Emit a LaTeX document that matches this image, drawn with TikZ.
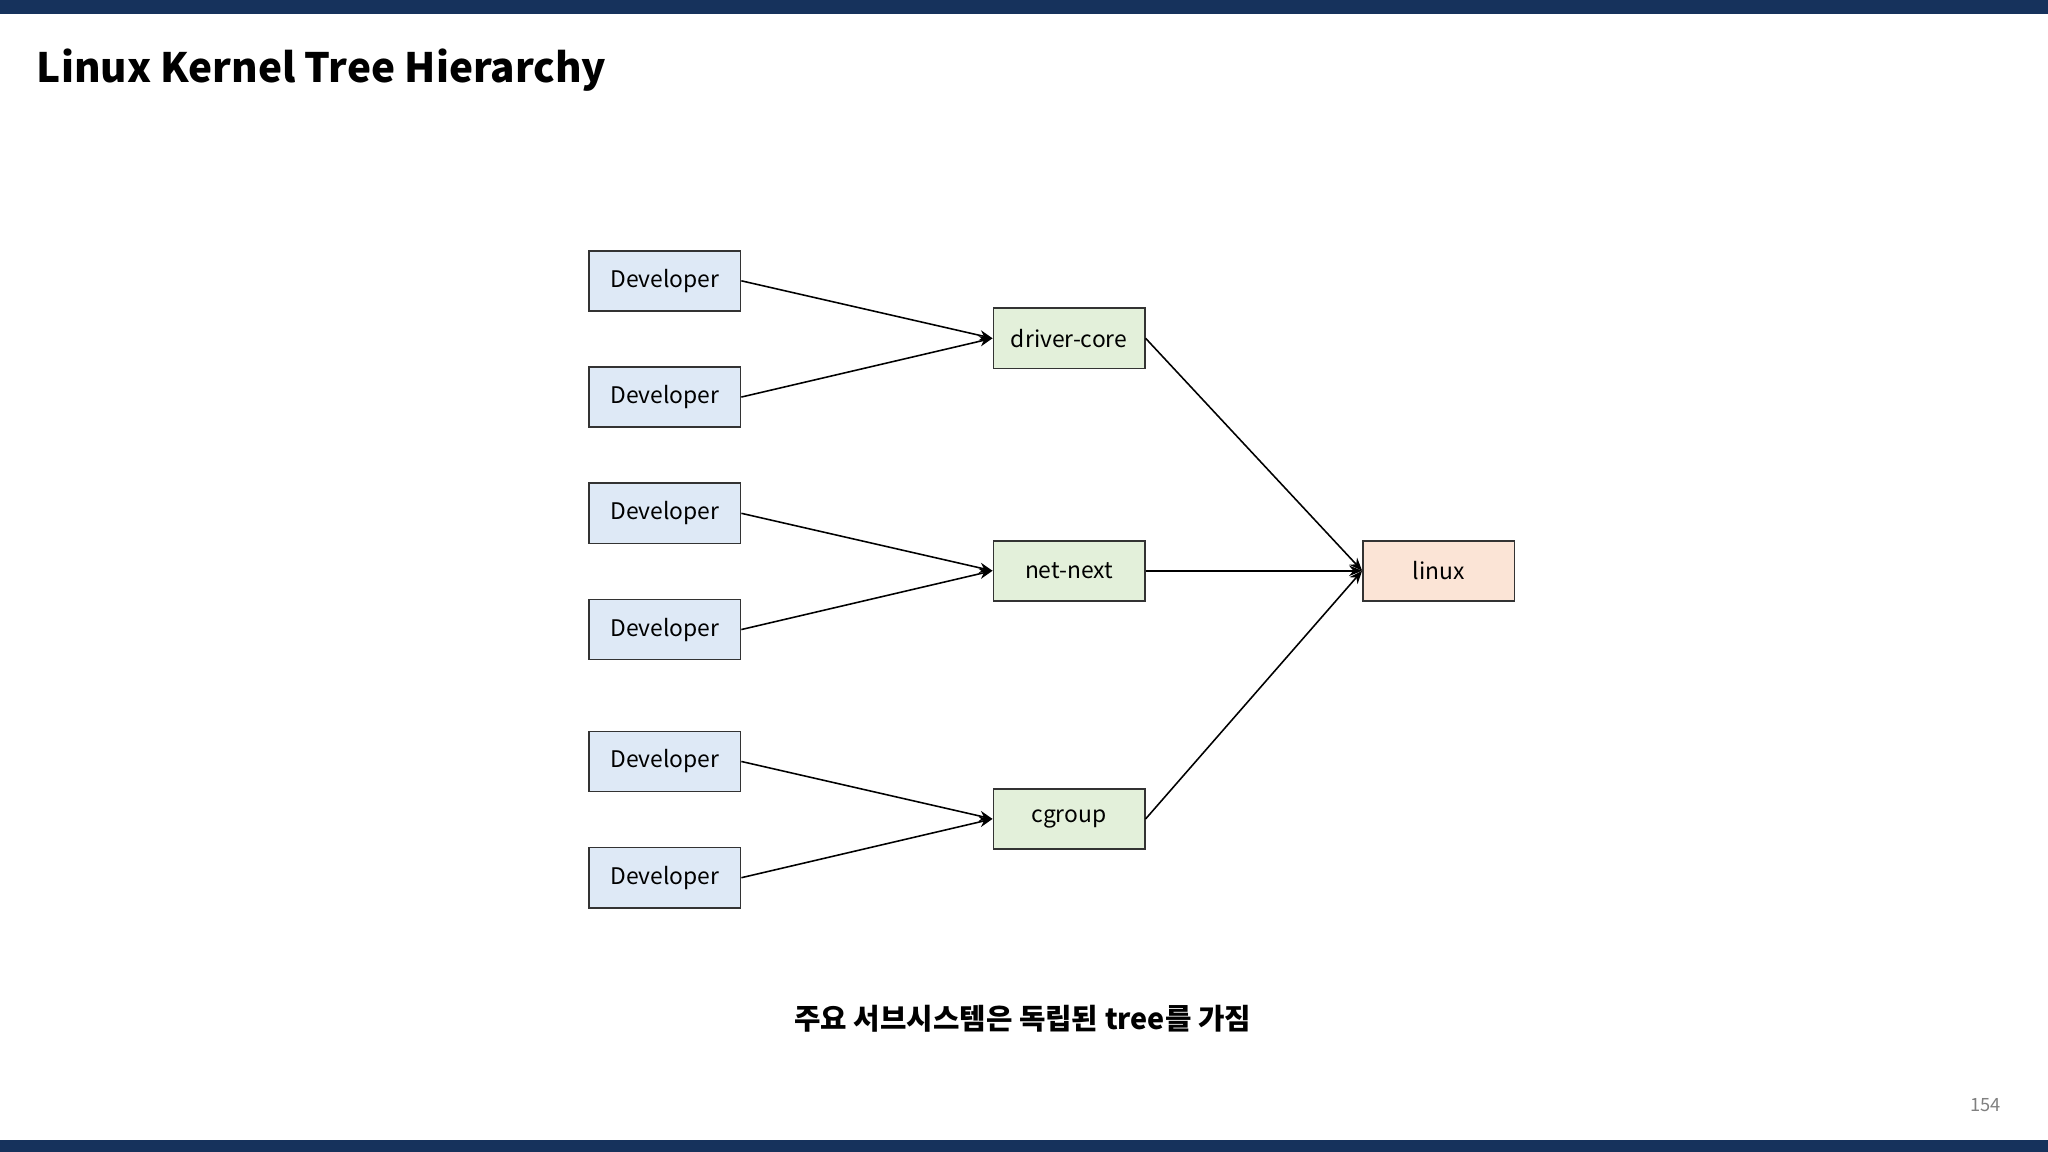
\documentclass[tikz,border=0pt]{standalone}
\usepackage{fontspec}
\setmainfont{Noto Sans CJK KR}
\usetikzlibrary{arrows.meta}
\definecolor{navy}{HTML}{16325C}
\definecolor{devfill}{HTML}{DEE9F6}
\definecolor{subfill}{HTML}{E3F0DA}
\definecolor{linfill}{HTML}{FBE4D6}
\tikzset{
  box/.style={draw=black!80, line width=1.2pt, minimum width=116pt, minimum height=46pt, inner sep=0pt, font=\fontsize{17.5}{20}\selectfont},
  dev/.style={box, fill=devfill},
  sub/.style={box, fill=subfill},
  lin/.style={box, fill=linfill},
  conn/.style={line width=1.2pt, -{Stealth[length=10pt,width=8pt]}}
}
\begin{document}
\begin{tikzpicture}[x=1pt,y=-1pt]
\useasboundingbox (0,0) rectangle (1568,882);
\fill[navy] (0,0) rectangle (1568,11);
\fill[navy] (0,873) rectangle (1568,882);
\node[anchor=west, font=\fontsize{31}{36}\selectfont\bfseries, inner sep=0pt] (title) at (28,54) {Linux Kernel Tree Hierarchy};
\node[dev] (d1) at (509,215) {Developer};
\node[dev] (d2) at (509,304) {Developer};
\node[dev] (d3) at (509,393) {Developer};
\node[dev] (d4) at (509,482) {Developer};
\node[dev] (d5) at (509,583) {Developer};
\node[dev] (d6) at (509,672) {Developer};
\node[sub] (s1) at (818.5,259) {driver-core};
\node[sub] (s2) at (818.5,437) {net-next};
\node[sub] (s3) at (818.5,627) {cgroup};
\node[lin] (lx) at (1101.5,437) {linux};
\draw[conn] (d1.east) -- (s1.west);
\draw[conn] (d2.east) -- (s1.west);
\draw[conn] (d3.east) -- (s2.west);
\draw[conn] (d4.east) -- (s2.west);
\draw[conn] (d5.east) -- (s3.west);
\draw[conn] (d6.east) -- (s3.west);
\draw[conn] (s1.east) -- (lx.west);
\draw[conn] (s2.east) -- (lx.west);
\draw[conn] (s3.east) -- (lx.west);
\node[font=\fontsize{22}{26}\selectfont\bfseries] (cap) at (783,780) {주요 서브시스템은 독립된 tree를 가짐};
\node[font=\fontsize{14}{16}\selectfont, text=black!50] (pg) at (1520,846) {154};
\end{tikzpicture}
\end{document}
